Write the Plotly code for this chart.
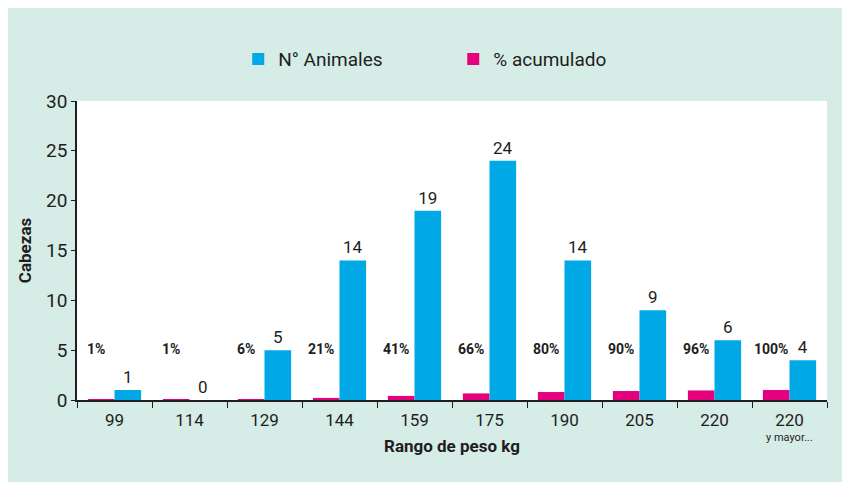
import plotly.graph_objects as go

categories = ["99", "114", "129", "144", "159", "175", "190", "205", "220", "220+"]
tick_labels = ["99", "114", "129", "144", "159", "175", "190", "205", "220", "220"]
last_note = "y mayor..."
animales = [1, 0, 5, 14, 19, 24, 14, 9, 6, 4]
acumulado_pct = [1, 1, 6, 21, 41, 66, 80, 90, 96, 100]

BLUE = "#00a8e6"
MAGENTA = "#e5007e"
GREEN = "#d6ece6"
FONT = "Liberation Sans Narrow, Roboto, sans-serif"

fig = go.Figure()
fig.add_trace(go.Bar(
    x=categories, y=[p / 100 for p in acumulado_pct], name="% acumulado",
    marker=dict(color=MAGENTA, line=dict(width=0)),
    legendrank=2, hoverinfo="skip",
))
fig.add_trace(go.Bar(
    x=categories, y=animales, name="N° Animales",
    marker=dict(color=BLUE, line=dict(width=0)),
    text=[str(v) for v in animales], textposition="outside",
    textfont=dict(size=17, color="#1e1e1e", family=FONT),
    cliponaxis=False, legendrank=1,
))

for i, p in enumerate(acumulado_pct):
    fig.add_annotation(x=i, y=0, xref="x", yref="y", text=f"<b>{p}%</b>",
                       showarrow=False, xshift=-19, yshift=51,
                       font=dict(size=14, color="#1e1e1e", family=FONT))

# note under the last tick label
fig.add_annotation(x=len(categories) - 1, y=0, xref="x", yref="paper", text=last_note,
                   showarrow=False, yanchor="middle", yshift=-37,
                   font=dict(size=11, color="#1e1e1e", family=FONT))

# x-axis title
fig.add_annotation(x=0.5, y=0, xref="paper", yref="paper", text="<b>Rango de peso kg</b>",
                   showarrow=False, yanchor="middle", yshift=-46,
                   font=dict(size=17, color="#1e1e1e", family=FONT))

fig.update_layout(
    width=850, height=482,
    margin=dict(l=69, r=31, t=93, b=90, autoexpand=False),
    paper_bgcolor=GREEN, plot_bgcolor="white",
    font=dict(family=FONT, color="#1e1e1e", size=17),
    barmode="group", bargap=0.29, bargroupgap=0,
    showlegend=True,
    legend=dict(orientation="h", x=0.215, xanchor="left", y=1.14, yanchor="middle",
                font=dict(size=19, family=FONT, color="#1e1e1e"),
                entrywidth=170, entrywidthmode="pixels",
                bgcolor="rgba(0,0,0,0)", itemwidth=30),
    xaxis=dict(
        type="category", tickmode="array", tickvals=categories, ticktext=tick_labels,
        tickson="boundaries", ticks="outside", ticklen=6, tickcolor="#1e1e1e",
        showline=True, linecolor="#1e1e1e", linewidth=1.5, tickangle=0,
        ticklabelstandoff=4,
        tickfont=dict(size=17, family=FONT, color="#1e1e1e"),
        showgrid=False, zeroline=False, automargin=False,
    ),
    yaxis=dict(
        range=[0, 30], tickvals=[0, 5, 10, 15, 20, 25, 30],
        ticks="outside", ticklen=4, tickcolor="#1e1e1e",
        showline=True, linecolor="#1e1e1e", linewidth=1.5,
        tickfont=dict(size=19, family=FONT, color="#1e1e1e"),
        title=dict(text="<b>Cabezas</b>", font=dict(size=17, family=FONT), standoff=10),
        showgrid=False, zeroline=False, automargin=False,
    ),
)

fig.write_html("out.html")
